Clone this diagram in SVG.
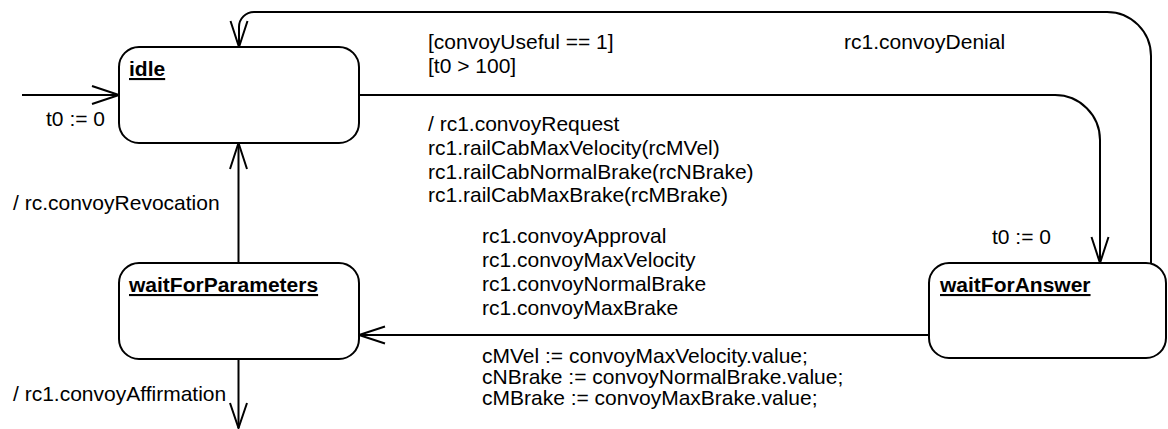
<svg xmlns="http://www.w3.org/2000/svg" width="1168" height="429" viewBox="0 0 1168 429">
  <style>
    .state { fill: #ffffff; stroke: #000000; stroke-width: 2; }
    .name { font-family: "Liberation Sans", Arial, sans-serif; font-size: 21px; font-weight: bold; text-decoration: underline; fill: #000000; }
    .lbl { font-family: "Liberation Sans", Arial, sans-serif; font-size: 21px; fill: #000000; }
    .edge { fill: none; stroke: #000000; stroke-width: 2; }
    .head { fill: none; stroke: #000000; stroke-width: 2; stroke-linejoin: miter; }
  </style>
  <rect width="1168" height="429" fill="#ffffff"/>

  <!-- transitions -->
  <g id="connectors">
    <!-- initial transition into idle -->
    <line class="edge" x1="22" y1="95" x2="119" y2="95"/>
    <polyline class="head" points="92,86 119,95 92,104"/>

    <!-- idle -> waitForAnswer -->
    <path class="edge" d="M 359 95 H 1055 A 45 45 0 0 1 1100 140 V 263"/>
    <polyline class="head" points="1091.5,237 1100,263 1108.5,237"/>

    <!-- waitForAnswer -> idle (denial) -->
    <path class="edge" d="M 1151 263 V 56 A 44 44 0 0 0 1107 12 H 254 A 15 15 0 0 0 239 27 V 47"/>
    <polyline class="head" points="230.5,21 239,47 247.5,21"/>

    <!-- waitForAnswer -> waitForParameters -->
    <line class="edge" x1="929" y1="335" x2="359" y2="335"/>
    <polyline class="head" points="385,326.5 359,335 385,343.5"/>

    <!-- waitForParameters -> idle (revocation) -->
    <line class="edge" x1="238.5" y1="263" x2="238.5" y2="143"/>
    <polyline class="head" points="230,169 238.5,143 247,169"/>

    <!-- waitForParameters -> exit (affirmation) -->
    <line class="edge" x1="238.5" y1="359" x2="238.5" y2="428"/>
    <polyline class="head" points="230,403 238.5,428 247,403"/>

    <!-- transition labels -->
    <text class="lbl" x="105" y="126" text-anchor="end">t0 := 0</text>
    <text class="lbl" x="428" y="49">[convoyUseful == 1]</text>
    <text class="lbl" x="428" y="73">[t0 &gt; 100]</text>
    <text class="lbl" x="428" y="131">/ rc1.convoyRequest</text>
    <text class="lbl" x="428" y="155">rc1.railCabMaxVelocity(rcMVel)</text>
    <text class="lbl" x="428" y="179">rc1.railCabNormalBrake(rcNBrake)</text>
    <text class="lbl" x="428" y="202">rc1.railCabMaxBrake(rcMBrake)</text>
    <text class="lbl" x="844" y="49">rc1.convoyDenial</text>
    <text class="lbl" x="992" y="244">t0 := 0</text>
    <text class="lbl" x="13" y="210">/ rc.convoyRevocation</text>
    <text class="lbl" x="482" y="243">rc1.convoyApproval</text>
    <text class="lbl" x="482" y="267">rc1.convoyMaxVelocity</text>
    <text class="lbl" x="482" y="291">rc1.convoyNormalBrake</text>
    <text class="lbl" x="482" y="315">rc1.convoyMaxBrake</text>
    <text class="lbl" x="482" y="363">cMVel := convoyMaxVelocity.value;</text>
    <text class="lbl" x="482" y="384">cNBrake := convoyNormalBrake.value;</text>
    <text class="lbl" x="482" y="405">cMBrake := convoyMaxBrake.value;</text>
    <text class="lbl" x="13" y="401">/ rc1.convoyAffirmation</text>
  </g>

  <!-- states -->
  <g id="idle">
    <rect class="state" x="119" y="47" width="240" height="96" rx="20" ry="20"/>
    <text class="name" x="129" y="76">idle</text>
  </g>
  <g id="waitForParameters">
    <rect class="state" x="119" y="263" width="240" height="96" rx="20" ry="20"/>
    <text class="name" x="129" y="292">waitForParameters</text>
  </g>
  <g id="waitForAnswer">
    <rect class="state" x="929" y="263" width="237" height="95" rx="20" ry="20"/>
    <text class="name" x="940" y="292">waitForAnswer</text>
  </g>
</svg>
